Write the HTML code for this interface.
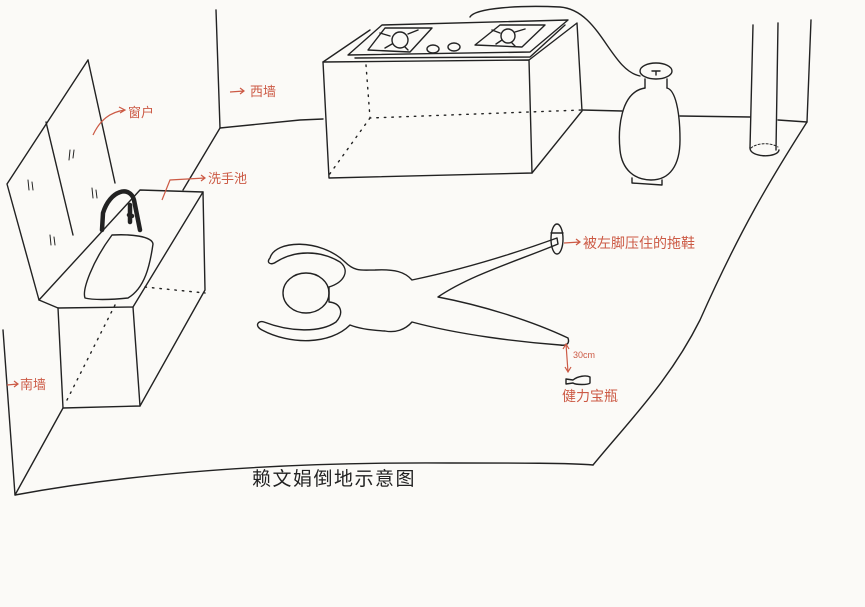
<!DOCTYPE html>
<html><head><meta charset="utf-8"><style>
html,body{margin:0;padding:0;background:#fbfaf7;}
svg{display:block;}
.r{fill:#cc5a45;font-family:"Liberation Sans","Noto Sans CJK SC",sans-serif;}
</style></head><body>
<svg width="865" height="607" viewBox="0 0 865 607" xmlns="http://www.w3.org/2000/svg">
<rect width="865" height="607" fill="#fbfaf7"/>
<g fill="none" stroke="#222" stroke-width="1.4" stroke-linecap="round" stroke-linejoin="round">
<path d="M216,10 L220,128 L300,120 L323,119"/>
<path d="M220,128 L183,190"/>
<path d="M582,110 L622,111"/><path d="M680,116 L750,117"/><path d="M778,120 L807,122"/>
<path d="M811,20 L807,122 C770,180 740,230 700,320 C670,380 630,420 593,465"/>
<path d="M15,495 C150,470 300,462 450,463 C520,463 570,463 593,465"/>
<path d="M3,330 L15,495 L63,408"/>
<path d="M88,60 L7,184 L39,300"/>
<path d="M88,60 L115,183"/>
<path d="M46,122 L73,235"/>
<path d="M70,150 l-1,10 M74,150 l-1,8 M28,180 l1,10 M32,182 l1,8 M92,188 l1,10 M96,190 l1,8 M50,235 l1,10 M54,237 l1,8" stroke-width="1"/>
<path d="M39,300 L140,190 L203,192 L133,307 L58,308 Z"/>
<path d="M58,308 L63,408 L140,406 L133,307"/>
<path d="M203,192 L205,290 L140,406"/>
<path d="M145,287 L205,293 M67,400 L115,305" stroke-dasharray="1.5,6"/>
<path d="M112,235 C130,234 152,236 153,244 C150,265 145,288 128,298 C110,300 92,300 85,298 C82,290 92,262 112,235 Z"/>
<path d="M102,230 L103,213 C110,190 130,185 134,200 L140,230 M129,215 L132,216 M130,205 L130,222" stroke-width="4.5"/>
<path d="M323,62 L529,60 L532,173 L329,178 Z"/>
<path d="M529,60 L577,23 L582,111 L532,173"/>
<path d="M323,62 L370,30"/>
<path d="M366,65 L370,118 L582,110 M370,118 L329,175" stroke-dasharray="1.5,6"/>
<path d="M348,55 L382,25 L568,20 L530,52 Z"/>
<path d="M355,58 L530,57 L565,25"/>
<path d="M368,50 L385,28 L432,28 L410,52 Z"/>
<circle cx="400" cy="40" r="8"/>
<path d="M390,36 L380,33 M408,34 L418,30 M405,47 L408,50 M392,44 L385,48"/>
<path d="M475,45 L500,25 L545,25 L522,47 Z"/>
<circle cx="508" cy="36" r="7"/>
<path d="M500,33 L492,30 M515,32 L525,29 M512,43 L515,46 M502,40 L496,44"/>
<ellipse cx="433" cy="49" rx="6" ry="4"/><ellipse cx="454" cy="47" rx="6" ry="4"/>
<path d="M470,17 C475,8 520,5 560,7 C600,10 610,70 640,76"/>
<ellipse cx="656" cy="71" rx="16" ry="8"/>
<path d="M652,71 L660,71 M656,71 L656,75"/>
<path d="M645,79 L645,88 M667,79 L667,88"/>
<path d="M645,88 C620,92 618,130 620,150 C622,170 635,180 651,180 C670,180 680,165 680,140 C680,110 675,90 667,88"/>
<path d="M632,178 L632,183 L662,185 L662,180"/>
<path d="M753,25 L750,148 M778,23 L776,150"/>
<path d="M750,148 C750,158 778,158 779,150"/>
<path d="M751,148 C758,142 772,143 778,147" stroke-dasharray="2,2" stroke-width="1"/>
<ellipse cx="306" cy="293" rx="23" ry="20"/>
<path d="M270,258 C275,240 320,238 345,262 C355,272 362,270 375,270 C395,269 405,272 412,280 C460,270 510,255 557,238 L558,244 C520,260 470,275 438,297 C480,305 530,320 568,338 C570,344 566,346 560,345 C520,342 460,335 412,322 C405,330 395,333 385,331 C365,330 355,327 350,325 C330,345 290,345 262,330 C254,326 258,320 264,322 C290,332 320,333 336,322 C345,312 340,303 329,302 L329,287 C345,282 350,270 340,262 C320,250 295,250 276,262 C270,266 266,262 270,258 Z"/>
<ellipse cx="557" cy="239" rx="6" ry="15"/>
<path d="M551,233 L563,233"/>
<path d="M573,380 L566,379 L566,384 L573,383 C576,385 588,385 590,383 L590,377 C586,375 578,376 573,380 Z"/>
</g>
<g fill="none" stroke="#cc5a45" stroke-width="1.2">
<path d="M93,135 C100,120 110,112 125,110 M119,107 L125,110 L120,113"/>
<path d="M230,92 L244,91 M240,88 L244,91 L240,94"/>
<path d="M162,200 L170,180 L205,178 M201,175 L205,178 L201,181"/>
<path d="M7,385 L18,384 M14,381 L18,384 L14,387"/>
<path d="M564,243 L580,242 M576,239 L580,242 L576,245"/>
<path d="M566,344 L568,372 M563,349 L566,344 L569,349 M565,367 L568,372 L571,367"/>
</g>
<text class="r" x="128" y="117" font-size="13">窗户</text>
<text class="r" x="250" y="96" font-size="13">西墙</text>
<text class="r" x="208" y="183" font-size="13">洗手池</text>
<text class="r" x="20" y="389" font-size="13">南墙</text>
<text class="r" x="583" y="248" font-size="14">被左脚压住的拖鞋</text>
<text class="r" x="573" y="358" font-size="9">30cm</text>
<text class="r" x="562" y="401" font-size="14">健力宝瓶</text>
<text x="252" y="485" font-size="19" letter-spacing="1.5" fill="#222" font-family="'Liberation Sans','Noto Sans CJK SC',sans-serif">赖文娟倒地示意图</text>
</svg>
</body></html>
